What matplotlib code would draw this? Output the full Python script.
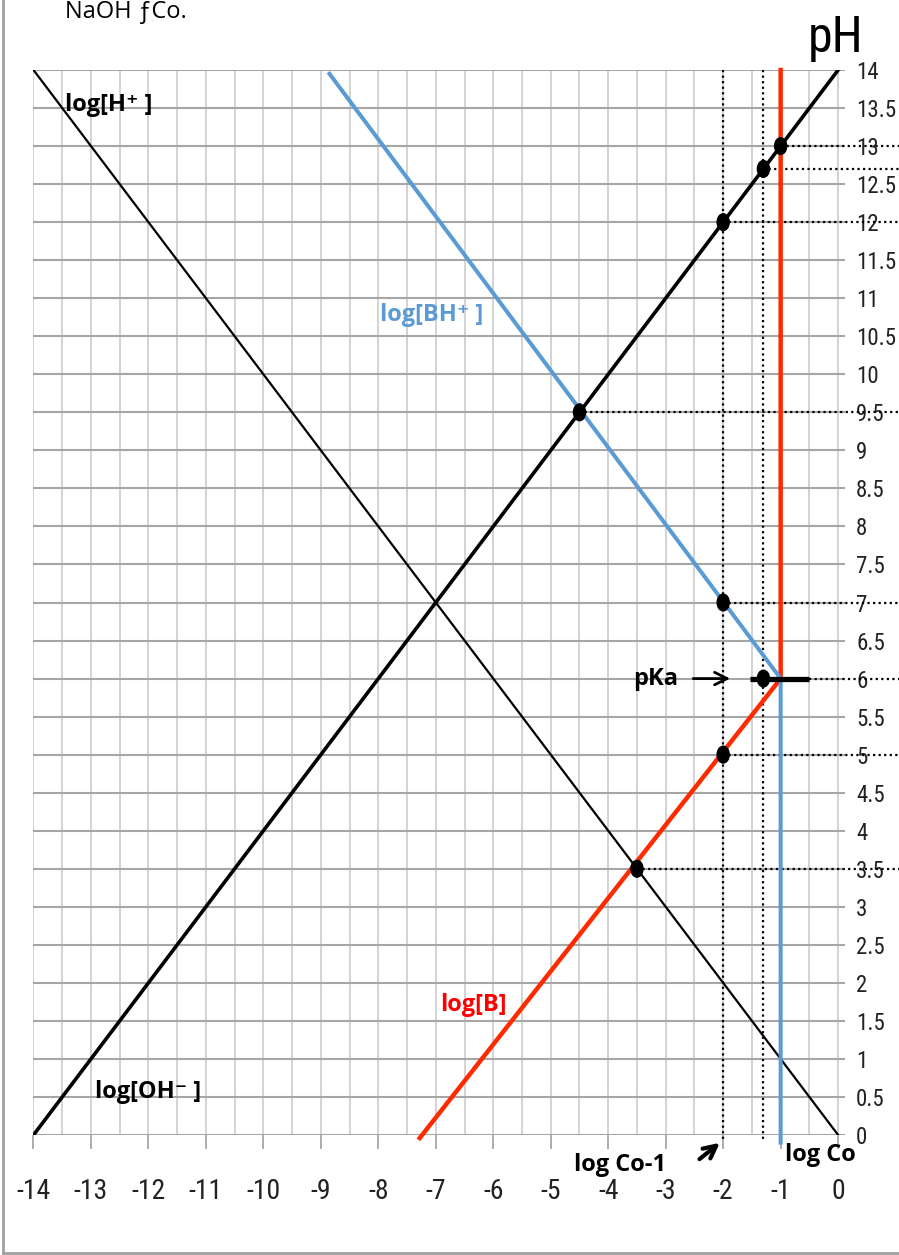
import matplotlib.pyplot as plt
from matplotlib import font_manager
from matplotlib.patches import Ellipse
import numpy as np

# acid/base log-concentration diagram, pKa = 6, log Co = -1
pka = 6
log_co = -1

# log[H+] and log[OH-] lines (x = log C, y = pH)
h_x = [-14, 0]
h_y = [14, 0]
oh_x = [-14, 0]
oh_y = [0, 14]

# log[BH+] (blue) and log[B] (red)
bh_x = [-8.85, -1, -1]
bh_y = [13.95, 6, -0.1]
b_x = [-7.28, -1, -1]
b_y = [-0.04, 6, 14]

# marked points
dot_x = [-1, -1.3, -2, -4.5, -2, -1.3, -2, -3.5]
dot_y = [13, 12.7, 12, 9.5, 7, 6, 5, 3.5]

# dotted guide lines: vertical at x, horizontal from a start x at pH
vguide_x = [-2, -1.3]
hguide_x = [-1, -1.3, -2, -4.5, -2, -0.5, -2, -3.5]
hguide_y = [13, 12.7, 12, 9.5, 7, 6, 5, 3.5]

yticks = np.arange(0, 14.01, 0.5)
ytick_labels = ["%g" % v for v in yticks]
xticks = np.arange(-14, 1, 1)
xtick_labels = ["%d" % v for v in xticks]

blue = "#5b9bd5"
red = "#ff2a00"

# pick a narrow face for the numbers if one is around
installed = {f.name for f in font_manager.fontManager.ttflist}
narrow = [n for n in ["Liberation Sans Narrow", "DejaVu Sans Condensed",
  "Roboto Condensed", "Open Sans Condensed", "Roboto"] if n in installed]
narrow_font = narrow[:1] + ["DejaVu Sans"]
bold_font = ["Open Sans", "DejaVu Sans"]

fig = plt.figure(figsize=(8.99, 12.55), dpi=100)
ax = fig.add_axes([0.03726, 0.09562, 0.9027, 0.8486])
ax.set_xlim(-14, 0.12)
ax.set_ylim(0, 14)
for s in ax.spines.values():
  s.set_visible(False)

# grid: vertical every 0.5, horizontal every 0.5
ax.set_xticks(xticks)
ax.set_xticks(np.arange(-13.5, 0, 1), minor=True)
ax.set_xticklabels(xtick_labels, family=narrow_font, fontsize=20, color="#222222")
ax.tick_params(axis="x", which="major", direction="out", length=10, width=1.2,
  color="#a0a0a0", pad=21)
ax.tick_params(axis="x", which="minor", length=0)
ax.yaxis.tick_right()
ax.set_yticks(yticks)
ax.set_yticklabels(ytick_labels, family=narrow_font, fontsize=16.5, color="#222222")
ax.tick_params(axis="y", length=0, pad=8)
ax.grid(axis="x", which="both", color="#d0d0d0", lw=1.3)
ax.grid(axis="y", which="major", color="#a6a6a6", lw=1.5)
ax.set_axisbelow(True)

# dotted guides
dot_style = dict(color="black", lw=1.6, ls=(0, (1, 1.5)), clip_on=False, zorder=2)
for x in vguide_x:
  ax.plot([x, x], [14, -0.07], **dot_style)
for x, y in zip(hguide_x, hguide_y):
  ax.plot([x, 1.06], [y, y], **dot_style)

# species lines
ax.plot(h_x, h_y, color="black", lw=1.6, zorder=3)
ax.plot(oh_x, oh_y, color="black", lw=2.6, zorder=3)
ax.plot(b_x, b_y, color=red, lw=3.2, zorder=3, clip_on=False)
ax.plot(bh_x, bh_y, color=blue, lw=2.9, zorder=4, clip_on=False)

# thick bar at pKa
ax.plot([-1.53, -0.5], [pka, pka], color="black", lw=3.8, solid_capstyle="butt", zorder=5)

for x, y in zip(dot_x, dot_y):
  ax.add_patch(Ellipse((x, y), 0.21, 0.22, color="black", zorder=6))

# labels
lab = dict(family=bold_font, fontweight="bold", fontsize=17, va="center")
ax.text(-13.45, 13.54, "log[H\u207a ]", **lab)
ax.text(-7.97, 10.78, "log[BH\u207a ]", color=blue, **lab)
ax.text(-6.93, 1.71, "log[B]", color="#ff0000", **lab)
ax.text(-12.93, 0.565, "log[OH\u207b ]", **lab)
ax.text(-2.79, 6.0, "pKa", ha="right", **lab)
ax.annotate("", xy=(-1.83, 6), xytext=(-2.57, 6),
  arrowprops=dict(arrowstyle="->,head_length=0.9,head_width=0.45", lw=2, color="black"))
ax.text(-3.8, -0.4, "log Co-1", ha="center", clip_on=False, **lab)
ax.annotate("", xy=(-2.02, -0.08), xytext=(-2.45, -0.34), annotation_clip=False,
  arrowprops=dict(arrowstyle="->,head_length=0.9,head_width=0.45", lw=3, color="black"))
ax.text(-0.93, -0.26, "log Co", ha="left", clip_on=False, **lab)

fig.text(0.929, 0.970, "pH", family=narrow_font, fontsize=36, ha="center", va="center")
fig.text(0.072, 0.9857, "NaOH \u0192Co.", fontsize=17, family=["Open Sans", "DejaVu Sans"],
  va="baseline")

# page frame
fig.add_artist(plt.Line2D([0.0035, 0.0035], [0.0015, 1], color="#a0a0a0", lw=2))
fig.add_artist(plt.Line2D([0.0035, 1], [0.0015, 0.0015], color="#a0a0a0", lw=2))

fig.savefig("out.png", dpi=100)
